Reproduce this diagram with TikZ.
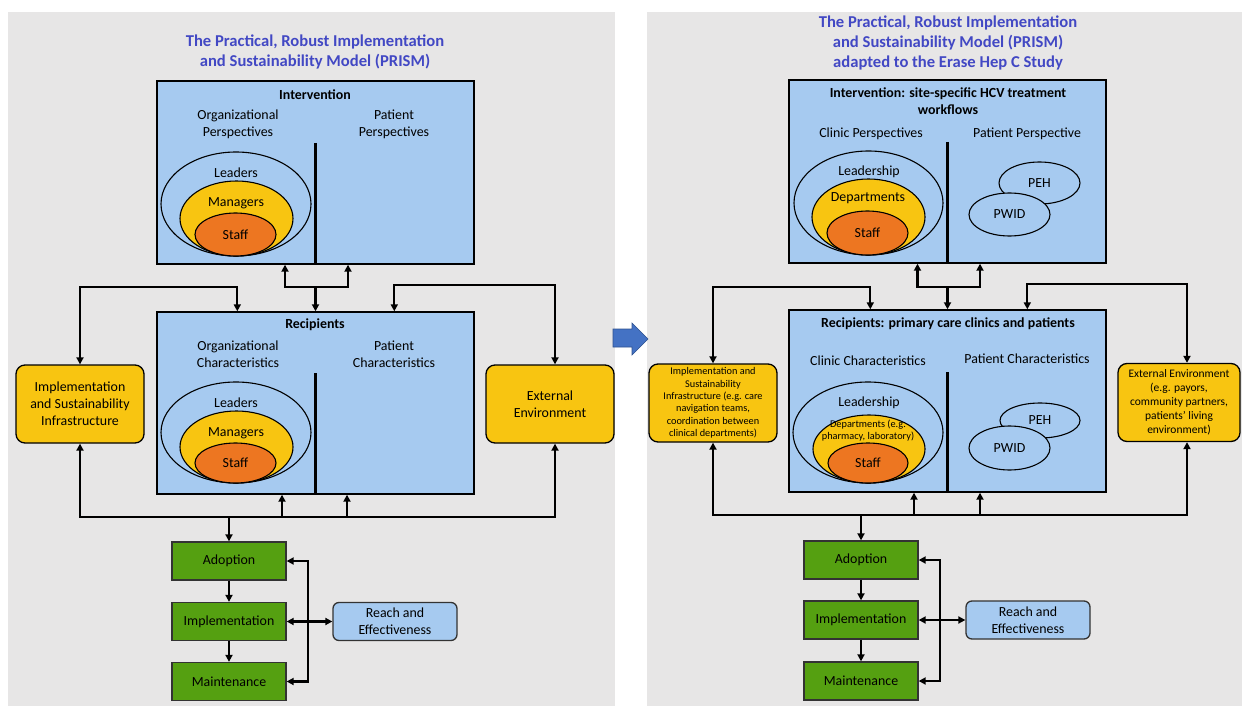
\documentclass[tikz,border=0pt]{standalone}
\usepackage{fontspec}
\setmainfont{Carlito}
\usepackage{tikz}
\usetikzlibrary{positioning, arrows.meta, calc, shapes}

\definecolor{panelgray}{RGB}{231,230,230}
\definecolor{boxblue}{RGB}{166,202,240}
\definecolor{boxyellow}{RGB}{248,197,17}
\definecolor{boxorange}{RGB}{237,118,33}
\definecolor{boxgreen}{RGB}{85,160,17}
\definecolor{titleblue}{RGB}{66,72,196}
\definecolor{arrowblue}{RGB}{68,114,196}
\definecolor{arrowedge}{RGB}{47,82,143}

\begin{document}
\begin{tikzpicture}[x=1pt, y=-1pt, font=\fontsize{13.9pt}{17pt}\selectfont,
	>={Triangle[length=7pt,width=7pt]},
	bluebox/.style={draw, rectangle, line width=1.4pt, fill=boxblue, minimum width=317pt},
	sidebox/.style={draw, rectangle, rounded corners=9pt, line width=1.3pt, fill=boxyellow, minimum width=128pt, minimum height=78pt, text centered, align=center},
	stagebox/.style={draw=black!80, rectangle, line width=1.3pt, fill=boxgreen, minimum width=114pt, minimum height=38pt},
	reachbox/.style={draw=black!80, rectangle, rounded corners=6pt, line width=1.3pt, fill=boxblue, minimum width=124pt, minimum height=38pt, text centered, align=center},
	ring/.style={draw, ellipse, line width=1.1pt, inner sep=0pt},
	heading/.style={font=\fontsize{13.9pt}{17pt}\selectfont\bfseries, text centered, align=center},
	title/.style={font=\fontsize{16.6pt}{20pt}\selectfont\bfseries, text=titleblue, text centered, align=center},
	link/.style={line width=2.1pt},
	divider/.style={line width=2.1pt}]

	%Background panels
	\useasboundingbox (0,0) rectangle (1242,706);
	\fill[panelgray] (8,12) rectangle (615,706);
	\fill[panelgray] (647,12) rectangle (1242,706);
	\draw[fill=arrowblue, draw=arrowedge, line width=0.6pt] (613,329) -- (632,329) -- (632,323) -- (648,339) -- (632,355) -- (632,347) -- (613,347) -- cycle;

	%First panel's blocks
	\node (Title1) at (315,52) [title]{The Practical, Robust Implementation\\and Sustainability Model (PRISM)};
	\node (Intervention1) at (315.5,172.5) [bluebox, minimum height=183pt]{};
	\node (Recipients1) at (315.5,403) [bluebox, minimum height=182pt]{};
	\node (Infra1) at (80,404) [sidebox]{Implementation\\and Sustainability\\Infrastructure};
	\node (External1) at (550,404) [sidebox]{External\\Environment};

	%Writing inside the first intervention block
	\node (Int Head1) at (315,95) [heading]{Intervention};
	\node (Int Org1) at (238,124.5) [text centered, align=center]{Organizational\\Perspectives};
	\node (Int Pat1) at (394,124.5) [text centered, align=center]{Patient\\Perspectives};
	\draw[divider] (315.5,143) -- (Intervention1.south);
	\node (Int Outer1) at (236,204) [ring, minimum width=150pt, minimum height=104pt]{};
	\node (Int Middle1) at (236.5,218.5) [ring, fill=boxyellow, minimum width=113pt, minimum height=75pt]{};
	\node (Int Inner1) at (235.5,234.5) [ring, fill=boxorange, minimum width=81pt, minimum height=43pt]{Staff};
	\node (Int Leaders1) at (236,173) {Leaders};
	\node (Int Managers1) at (236,203) {Managers};

	%Writing inside the first recipients block
	\node (Rec Head1) at (315,325) [heading]{Recipients};
	\node (Rec Org1) at (238,354.5) [text centered, align=center]{Organizational\\Characteristics};
	\node (Rec Pat1) at (394,354.5) [text centered, align=center]{Patient\\Characteristics};
	\draw[divider] (315.5,373) -- (Recipients1.south);
	\node (Rec Outer1) at (236,432.5) [ring, minimum width=150pt, minimum height=101pt]{};
	\node (Rec Middle1) at (236.5,447) [ring, fill=boxyellow, minimum width=113pt, minimum height=72pt]{};
	\node (Rec Inner1) at (235.5,463) [ring, fill=boxorange, minimum width=81pt, minimum height=40pt]{Staff};
	\node (Rec Leaders1) at (236,403) {Leaders};
	\node (Rec Managers1) at (236,433) {Managers};

	%Outcome stages of the first panel
	\node (Adoption1) at (229,561) [stagebox]{Adoption};
	\node (Implementation1) at (229,621.5) [stagebox]{Implementation};
	\node (Maintenance1) at (229,681.5) [stagebox]{Maintenance};
	\node (Reach1) at (395,621.5) [reachbox]{Reach and\\Effectiveness};

	%Links among first panel's blocks
	\coordinate (Hub Top1) at (315.5,287);
	\coordinate (Corner Left1) at (160,287);
	\coordinate (Corner Right1) at (470,285);
	\coordinate (Hub Bottom1) at (229,517);
	\coordinate (Bracket1) at (308,621.5);
	\draw[link, <->] ($(Intervention1.south)+(-30.5,0)$) |- (Hub Top1) -| ($(Intervention1.south)+(32.5,0)$);
	\draw[link, ->] (Hub Top1) -- (Recipients1.north);
	\draw[link, <->] (Infra1.north) |- (Corner Left1) -| ($(Recipients1.north west)+(81,0)$);
	\draw[link, <->] ($(Recipients1.north west)+(238,0)$) |- (Corner Right1) -| ($(External1.north)+(5,0)$);
	\draw[link, <->] (Infra1.south) |- (Hub Bottom1) -| ($(External1.south)+(5,0)$);
	\draw[link, <-] ($(Recipients1.south)+(-33.5,0)$) -- ++(0,23);
	\draw[link, <-] ($(Recipients1.south)+(31.5,0)$) -- ++(0,23);
	\draw[link, ->] (Hub Bottom1) -- (Adoption1.north);
	\draw[link, ->] (Adoption1) -- (Implementation1);
	\draw[link, ->] (Implementation1) -- (Maintenance1);
	\draw[link, <->] (Adoption1.east) -| (Bracket1) |- (Maintenance1.east);
	\draw[link, <->] (Implementation1.east) -- (Reach1.west);

	%Second panel's blocks
	\node (Title2) at (948,43) [title]{The Practical, Robust Implementation\\and Sustainability Model (PRISM)\\adapted to the Erase Hep C Study};
	\node (Intervention2) at (947.5,171.5) [bluebox, minimum height=183pt]{};
	\node (Recipients2) at (947.5,401) [bluebox, minimum height=182pt]{};
	\node (Infra2) at (713,403) [sidebox, font=\fontsize{10.3pt}{12.3pt}\selectfont]{Implementation and\\Sustainability\\Infrastructure (e.g. care\\navigation teams,\\coordination between\\clinical departments)};
	\node (External2) at (1179,402.5) [sidebox, minimum width=122pt, font=\fontsize{11.5pt}{14pt}\selectfont]{External Environment\\(e.g. payors,\\community partners,\\patients’ living\\environment)};

	%Writing inside the second intervention block
	\node (Int Head2) at (948,101.5) [heading]{Intervention: site-specific HCV treatment\\workflows};
	\node (Int Clinic2) at (871,134) {Clinic Perspectives};
	\node (Int Pat2) at (1027,134) {Patient Perspective};
	\draw[divider] (947.5,142) -- (Intervention2.south);
	\node (Int Outer2) at (868.5,203) [ring, minimum width=149pt, minimum height=104pt]{};
	\node (Int Middle2) at (868.5,217) [ring, fill=boxyellow, minimum width=113pt, minimum height=76pt]{};
	\node (Int Inner2) at (867.5,233) [ring, fill=boxorange, minimum width=81pt, minimum height=44pt]{Staff};
	\node (Int Leadership2) at (869,172) {Leadership};
	\node (Int Departments2) at (868,198) {Departments};
	\node (Int PEH2) at (1039.5,183) [ring, fill=boxblue, minimum width=81pt, minimum height=42pt]{PEH};
	\node (Int PWID2) at (1009.5,214.5) [ring, fill=boxblue, minimum width=81pt, minimum height=43pt]{PWID};

	%Writing inside the second recipients block
	\node (Rec Head2) at (948,324) [heading]{Recipients: primary care clinics and patients};
	\node (Rec Clinic2) at (868,361) {Clinic Characteristics};
	\node (Rec Pat2) at (1027,359) {Patient Characteristics};
	\draw[divider] (947.5,372) -- (Recipients2.south);
	\node (Rec Outer2) at (868,432.5) [ring, minimum width=150pt, minimum height=101pt]{};
	\node (Rec Middle2) at (869,449) [ring, fill=boxyellow, minimum width=112pt, minimum height=68pt]{};
	\node (Rec Inner2) at (868,463) [ring, fill=boxorange, minimum width=80pt, minimum height=40pt]{Staff};
	\node (Rec Leadership2) at (869,403) {Leadership};
	\node (Rec Departments2) at (868,431) [text centered, align=center, font=\fontsize{10.3pt}{12pt}\selectfont]{Departments (e.g.\\pharmacy, laboratory)};
	\node (Rec PEH2) at (1040,420.5) [ring, fill=boxblue, minimum width=80pt, minimum height=35pt]{PEH};
	\node (Rec PWID2) at (1009.5,448) [ring, fill=boxblue, minimum width=81pt, minimum height=44pt]{PWID};

	%Outcome stages of the second panel
	\node (Adoption2) at (861,560) [stagebox]{Adoption};
	\node (Implementation2) at (861,620) [stagebox]{Implementation};
	\node (Maintenance2) at (861,681) [stagebox]{Maintenance};
	\node (Reach2) at (1028,620) [reachbox]{Reach and\\Effectiveness};

	%Links among second panel's blocks
	\coordinate (Hub Top2) at (947.5,287);
	\coordinate (Corner Left2) at (790,287);
	\coordinate (Corner Right2) at (1100,284);
	\coordinate (Hub Bottom2) at (861,515);
	\coordinate (Bracket2) at (940,620);
	\draw[link, <->] ($(Intervention2.south)+(-30,0)$) |- (Hub Top2) -| ($(Intervention2.south)+(32.5,0)$);
	\draw[link, ->] (Hub Top2) -- (Recipients2.north);
	\draw[link, <->] (Infra2.north) |- (Corner Left2) -| ($(Recipients2.north west)+(82,0)$);
	\draw[link, <->] ($(Recipients2.north west)+(239,0)$) |- (Corner Right2) -| ($(External2.north)+(8,0)$);
	\draw[link, <->] (Infra2.south) |- (Hub Bottom2) -| ($(External2.south)+(8,0)$);
	\draw[link, <-] ($(Recipients2.south)+(-33.5,0)$) -- ++(0,23);
	\draw[link, <-] ($(Recipients2.south)+(32.5,0)$) -- ++(0,23);
	\draw[link, ->] (Hub Bottom2) -- (Adoption2.north);
	\draw[link, ->] (Adoption2) -- (Implementation2);
	\draw[link, ->] (Implementation2) -- (Maintenance2);
	\draw[link, <->] (Adoption2.east) -| (Bracket2) |- (Maintenance2.east);
	\draw[link, <->] (Implementation2.east) -- (Reach2.west);

\end{tikzpicture}
\end{document}
